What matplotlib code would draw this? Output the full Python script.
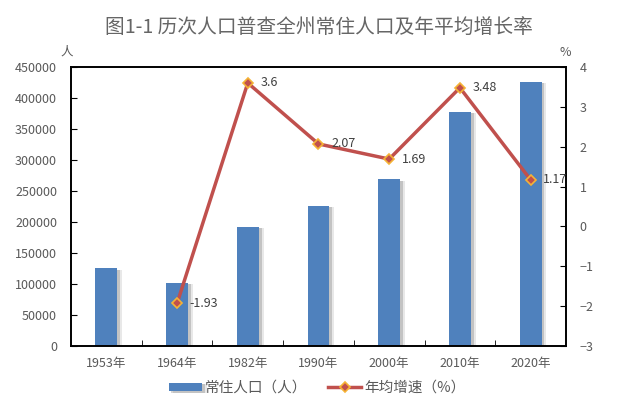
import matplotlib
matplotlib.use("Agg")
import matplotlib.pyplot as plt
import matplotlib.patheffects as pe
import numpy as np

plt.rcParams['font.family'] = ['Noto Sans CJK SC', 'DejaVu Sans']

years = ["1953年", "1964年", "1982年", "1990年", "2000年", "2010年", "2020年"]
population = [125500, 102300, 192500, 226000, 268700, 378000, 426000]
growth = [None, -1.93, 3.6, 2.07, 1.69, 3.48, 1.17]
growth_labels = ["", "-1.93", "3.6", "2.07", "1.69", "3.48", "1.17"]

bar_color = "#4F81BD"
line_color = "#C0504D"
text_color = "#595959"

fig = plt.figure(figsize=(6.24, 4.03), dpi=100)
ax = fig.add_axes([0.1138, 0.1414, 0.7932, 0.6923])
ax2 = ax.twinx()

x = np.arange(len(years))
bars = ax.bar(x, population, width=0.31, color=bar_color, zorder=2,
              label="常住人口（人）")
for b in bars:
    b.set_path_effects([pe.SimplePatchShadow(offset=(2, -1), alpha=0.22,
                                             shadow_rgbFace="#444444"),
                        pe.SimplePatchShadow(offset=(3.5, -1), alpha=0.12,
                                             shadow_rgbFace="#444444"),
                        pe.Normal()])

ax.set_xlim(-0.5, len(years) - 0.5)
ax.set_ylim(0, 450000)
ax.set_yticks(np.arange(0, 450001, 50000))
ax.set_xticks(x)
ax.set_xticklabels(years)
ax.set_xticks(np.arange(0.5, len(years) - 1, 1), minor=True)
ax.tick_params(axis='x', which='major', length=0, pad=8,
               labelsize=9, labelcolor=text_color)
ax.tick_params(axis='x', which='minor', direction='in', length=4)
ax.tick_params(axis='y', direction='in', length=4,
               labelsize=9, labelcolor=text_color, pad=10)

gx = [i for i, g in enumerate(growth) if g is not None]
gy = [g for g in growth if g is not None]
line, = ax2.plot(gx, gy, color=line_color, lw=2.5, marker='D', ms=5,
                 mfc="#C0504D", mec="#F5B335", mew=1.2, zorder=3,
                 label="年均增速（%）")
for i, g in zip(gx, gy):
    ax2.annotate(growth_labels[i], (i, g), xytext=(9, 0),
                 textcoords='offset points', va='center', ha='left',
                 fontsize=9, color="#404040")
ax2.set_ylim(-3, 4)
ax2.set_yticks(np.arange(-3, 5, 1))
ax2.tick_params(axis='y', direction='in', length=4,
                labelsize=9, labelcolor=text_color, pad=10)

for a in (ax, ax2):
    for s in a.spines.values():
        s.set_color("black")
        s.set_linewidth(1.2)

fig.text(0.511, 0.933, "图1-1 历次人口普查全州常住人口及年平均增长率",
         ha='center', va='center', fontsize=14.2, color="#666666")
fig.text(0.107, 0.87, "人", ha='center', va='center', fontsize=9,
         color=text_color)
fig.text(0.906, 0.87, "%", ha='center', va='center', fontsize=9,
         color=text_color)

fig.legend([bars, line], ["常住人口（人）", "年均增速（%）"],
           loc='center', bbox_to_anchor=(0.508, 0.037), ncol=2, frameon=False,
           fontsize=10.5, labelcolor=text_color, handlelength=2.3,
           handleheight=0.55, columnspacing=1.4, handletextpad=0.2)

fig.savefig("out.png", dpi=100)
